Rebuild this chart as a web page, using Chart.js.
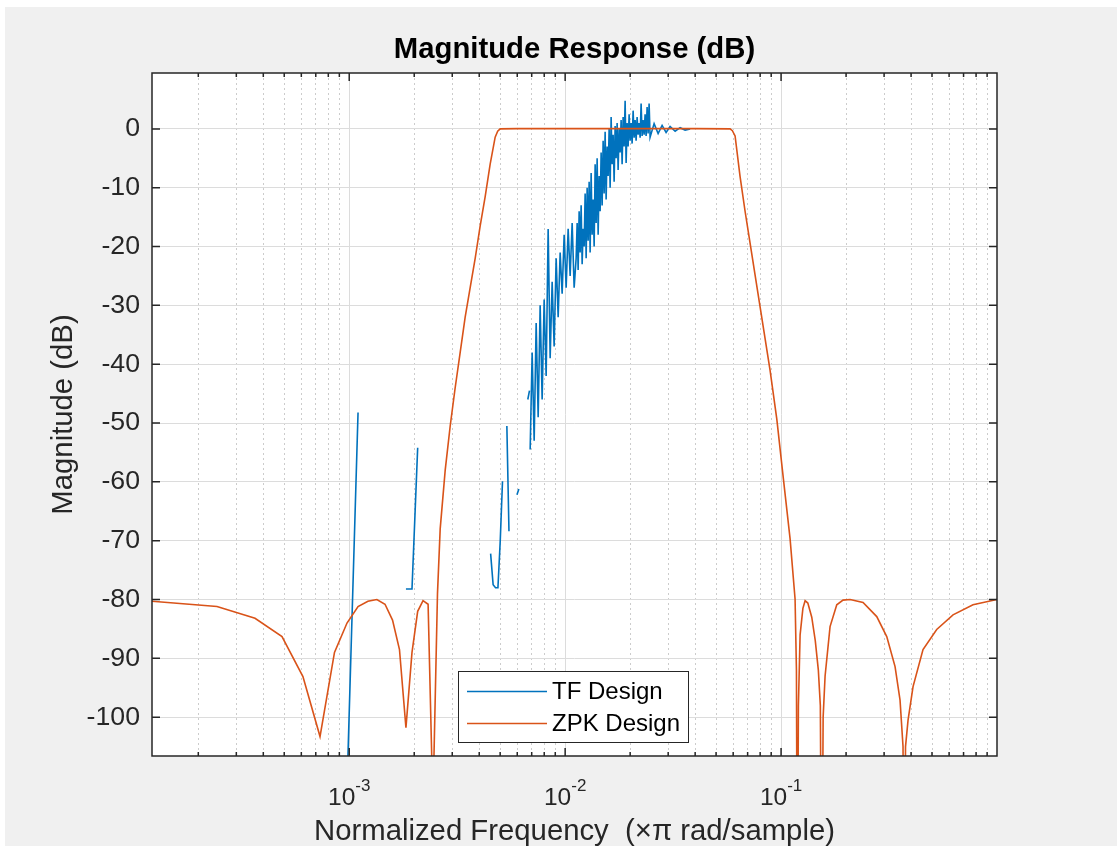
<!DOCTYPE html>
<html>
<head>
<meta charset="utf-8">
<title>Magnitude Response (dB)</title>
<script src="https://cdn.jsdelivr.net/npm/chart.js@4.4.1/dist/chart.umd.min.js"></script>
<style>
  html, body { margin: 0; padding: 0; background: #fff; }
  canvas { display: block; }
</style>
</head>
<body>
<canvas id="magChart" width="1117" height="846"></canvas>
<script>
// ---- data ----
const seriesNames = ['TF Design', 'ZPK Design'];
const seriesColors = ['#0072BD', '#D95319'];

// TF design (numerically broken at low freq -> gaps)
const tfFreq = [
  9.766e-4, 1.0986e-3, 1.16e-3,
  1.831e-3, 1.953e-3, 2.075e-3, 2.14e-3,
  4.517e-3, 4.639e-3, 4.761e-3, 4.883e-3, 5.005e-3, 5.127e-3, 5.25e-3,
  5.371e-3, 5.493e-3, 5.6e-3,
  5.981e-3, 6.104e-3, 6.3e-3,
  6.714e-3, 6.836e-3, 6.86e-3,
  6.886e-3, 7.034e-3, 7.186e-3, 7.341e-3, 7.499e-3, 7.660e-3, 7.825e-3, 7.994e-3,
  8.166e-3, 8.342e-3, 8.522e-3, 8.706e-3, 8.893e-3, 9.085e-3, 9.281e-3, 9.481e-3,
  9.685e-3, 9.894e-3, 1.0107e-2, 1.0325e-2, 1.0547e-2, 1.0775e-2, 1.1007e-2,
  1.1244e-2, 1.1365e-2, 1.1486e-2, 1.1609e-2, 1.1734e-2, 1.1860e-2, 1.1987e-2, 1.2115e-2,
  1.2245e-2, 1.2376e-2, 1.2509e-2, 1.2643e-2, 1.2779e-2, 1.2916e-2, 1.3054e-2, 1.3194e-2,
  1.3335e-2, 1.3478e-2, 1.3623e-2, 1.3769e-2, 1.3916e-2, 1.4065e-2, 1.4216e-2, 1.4368e-2,
  1.4522e-2, 1.4678e-2, 1.4835e-2, 1.4994e-2, 1.5155e-2, 1.5317e-2, 1.5481e-2, 1.5647e-2,
  1.5815e-2, 1.5984e-2, 1.6155e-2, 1.6328e-2, 1.6503e-2, 1.6680e-2, 1.6859e-2, 1.7040e-2,
  1.7222e-2, 1.7407e-2, 1.7593e-2, 1.7782e-2, 1.7972e-2, 1.8165e-2, 1.8359e-2, 1.8556e-2,
  1.8755e-2, 1.8956e-2, 1.9159e-2, 1.9364e-2, 1.9572e-2, 1.9782e-2, 1.9993e-2, 2.0208e-2,
  2.0424e-2, 2.0643e-2, 2.0864e-2, 2.1088e-2, 2.1313e-2, 2.1542e-2, 2.1773e-2, 2.2006e-2,
  2.2242e-2, 2.2480e-2, 2.2721e-2, 2.2964e-2, 2.3210e-2, 2.3459e-2, 2.3710e-2, 2.3964e-2,
  2.4221e-2, 2.4481e-2, 2.4743e-2,
  2.582e-2, 2.695e-2, 2.812e-2, 2.934e-2, 3.062e-2, 3.231e-2, 3.407e-2, 3.594e-2, 3.790e-2
];
const tfMag = [
  -112, -48.2, null,
  -78.2, -78.2, -54.2, null,
  -72.2, -77.5, -78, -78, -70, -59.9, null,
  -50.5, -68.4, null,
  -62.2, -61.2, null,
  -46, -44.5, null,
  -54.5, -38, -53, -33, -49, -30, -46, -29,
  -42, -17, -39, -26, -37, -22, -32, -21,
  -28, -18, -27, -17, -25, -16, -27,
  -22, -16, -24, -14, -21, -13, -23, -17,
  -20, -11, -22, -10, -19, -9, -21, -7.5,
  -18, -12, -20, -6, -16, -5, -18, -8,
  -14, -4, -13, -2, -11, -0.5, -12, -3,
  -8, 0, -10, 2, -6, -1, -9, 0.5,
  -5, 1, -7, 0, -4, 1.5, -6, 2,
  -3, 4.8, -5.8, 1, -3, 2.5, -2, 1,
  -2.5, 3.1, -1.5, 1.5, -2, 2, -1, 1,
  -1.5, 4.3, -1.2, 1.5, -1, 2.5, -1.2, 3.7,
  -0.8, 4.3, -1.4,
  0.9, -0.8, 0.6, -0.6, 0.4, -0.4, 0.2, -0.2, 0
];

// ZPK design
const zpkFreq = [
  1.2207e-4, 2.441e-4, 3.662e-4, 4.883e-4, 6.104e-4, 7.324e-4, 8.545e-4, 9.766e-4,
  1.0986e-3, 1.2207e-3, 1.3428e-3, 1.4648e-3, 1.5869e-3, 1.709e-3, 1.831e-3, 1.953e-3,
  2.075e-3, 2.197e-3, 2.319e-3, 2.441e-3, 2.563e-3, 2.638e-3, 2.783e-3, 2.935e-3,
  3.095e-3, 3.265e-3, 3.443e-3, 3.632e-3, 3.831e-3, 4.041e-3, 4.262e-3, 4.495e-3,
  4.741e-3, 4.87e-3, 5.001e-3, 6e-3, 1e-2, 2e-2, 4e-2,
  5.806e-2, 5.95e-2, 6.124e-2, 6.459e-2, 6.812e-2, 7.185e-2, 7.992e-2, 8.890e-2,
  9.552e-2, 0.1025, 0.1101, 0.1161, 0.1178, 0.1190, 0.1203, 0.1225,
  0.1262, 0.1292, 0.1330, 0.1387, 0.1440, 0.1488, 0.1520, 0.1543,
  0.1566, 0.1599, 0.1686, 0.1811, 0.1936, 0.2087, 0.2397, 0.2774,
  0.3086, 0.3372, 0.3556, 0.3671, 0.3710, 0.3770, 0.3873, 0.4085,
  0.4543, 0.5257, 0.6256, 0.7743, 1.0
];
const zpkMag = [
  -80.3, -81.2, -83.2, -86.3, -93.1, -103.3, -89, -84,
  -81.2, -80.3, -80, -80.8, -83.5, -88.5, -101.8, -89,
  -82, -80.2, -80.8, -115, -79, -68, -58, -50.5,
  -44, -38, -32, -27, -22, -16.5, -11.5, -6,
  -1.4, -0.4, 0, 0.05, 0.05, 0.05, 0.05,
  0, -0.3, -1.2, -8.1, -14, -19.4, -30.2, -41,
  -49.3, -59.5, -69.7, -79.9, -92, -140, -98, -86,
  -81.5, -80.2, -80.6, -83, -87, -92, -98, -140,
  -100, -93, -84.6, -80.9, -80.1, -80, -80.5, -82.9,
  -86.3, -91.4, -97.1, -105, -140, -105, -100.5, -94.8,
  -88.5, -85.1, -82.6, -80.9, -80
];

// axes
const xMin = 1.2207e-4, xMax = 1;
const yMin = -106.6, yMax = 9.5;
const yTicks = [-100, -90, -80, -70, -60, -50, -40, -30, -20, -10, 0];
const xMajor = [1e-3, 1e-2, 1e-1];
const xExponents = ['-3', '-2', '-1'];
const xDecades = [1e-4, 1e-3, 1e-2, 1e-1];
const xMantissas = [2, 3, 4, 5, 6, 7, 8, 9];

const FONT = "'Liberation Sans', Arial, Helvetica, sans-serif";
const AXIS_COLOR = '#262626';

const xTickValues = xMajor.slice();
xDecades.forEach(d => xMantissas.forEach(m => xTickValues.push(m * d)));
xTickValues.sort((a, b) => a - b);

function isMajorX(v) {
  return xMajor.some(m => Math.abs(v - m) / m < 1e-6);
}

const tfPoints = tfFreq.map((f, i) => ({ x: f, y: tfMag[i] }));
const zpkPoints = zpkFreq.map((f, i) => ({ x: f, y: zpkMag[i] }));

// frame, ticks, labels, legend drawn MATLAB-style
const matlabFrame = {
  id: 'matlabFrame',
  beforeDraw(chart) {
    const { ctx, chartArea: a } = chart;
    ctx.save();
    ctx.fillStyle = '#ffffff';
    ctx.fillRect(0, 0, chart.width, chart.height);
    ctx.fillStyle = '#f0f0f0';
    ctx.fillRect(5, 7, chart.width - 5, chart.height - 7);
    ctx.fillStyle = '#ffffff';
    ctx.fillRect(a.left, a.top, a.right - a.left, a.bottom - a.top);
    ctx.restore();
  },
  afterDraw(chart) {
    const { ctx, chartArea: a } = chart;
    const xs = chart.scales.x, ys = chart.scales.y;
    ctx.save();

    // box
    ctx.strokeStyle = AXIS_COLOR;
    ctx.lineWidth = 1.5;
    ctx.strokeRect(a.left, a.top, a.right - a.left, a.bottom - a.top);

    // inward ticks on all four sides
    ctx.beginPath();
    xTickValues.forEach(v => {
      const px = xs.getPixelForValue(v);
      const len = isMajorX(v) ? 8 : 4;
      ctx.moveTo(px, a.bottom); ctx.lineTo(px, a.bottom - len);
      ctx.moveTo(px, a.top); ctx.lineTo(px, a.top + len);
    });
    yTicks.forEach(v => {
      const py = ys.getPixelForValue(v);
      ctx.moveTo(a.left, py); ctx.lineTo(a.left + 8, py);
      ctx.moveTo(a.right, py); ctx.lineTo(a.right - 8, py);
    });
    ctx.stroke();

    // x tick labels 10^n
    ctx.fillStyle = AXIS_COLOR;
    ctx.textBaseline = 'alphabetic';
    ctx.textAlign = 'left';
    xMajor.forEach((v, i) => {
      const px = xs.getPixelForValue(v);
      ctx.font = '24.5px ' + FONT;
      const w1 = ctx.measureText('10').width;
      ctx.font = '17px ' + FONT;
      const w2 = ctx.measureText(xExponents[i]).width;
      const start = px - (w1 + w2) / 2;
      ctx.font = '24.5px ' + FONT;
      ctx.fillText('10', start, 805);
      ctx.font = '17px ' + FONT;
      ctx.fillText(xExponents[i], start + w1, 791);
    });

    // title and axis labels
    const cx = (a.left + a.right) / 2;
    ctx.textAlign = 'center';
    ctx.fillStyle = '#000000';
    ctx.font = 'bold 29.3px ' + FONT;
    ctx.fillText('Magnitude Response (dB)', cx, 58);
    ctx.fillStyle = AXIS_COLOR;
    ctx.font = '29.3px ' + FONT;
    ctx.fillText('Normalized Frequency  (\u00d7\u03c0 rad/sample)', cx, 840);
    ctx.save();
    ctx.translate(72, (a.top + a.bottom) / 2);
    ctx.rotate(-Math.PI / 2);
    ctx.fillText('Magnitude (dB)', 0, 0);
    ctx.restore();

    // legend box
    const lx = 458.5, ly = 671.5, lw = 230, lh = 71;
    ctx.fillStyle = '#ffffff';
    ctx.fillRect(lx, ly, lw, lh);
    ctx.strokeStyle = AXIS_COLOR;
    ctx.lineWidth = 1;
    ctx.strokeRect(lx, ly, lw, lh);
    ctx.font = '24px ' + FONT;
    ctx.textAlign = 'left';
    ctx.textBaseline = 'middle';
    seriesNames.forEach((name, i) => {
      const yy = ly + 20 + i * 32;
      ctx.strokeStyle = seriesColors[i];
      ctx.lineWidth = 1.6;
      ctx.beginPath();
      ctx.moveTo(467, yy); ctx.lineTo(547, yy);
      ctx.stroke();
      ctx.fillStyle = '#000000';
      ctx.fillText(name, 552, yy + 1);
    });

    ctx.restore();
  }
};

new Chart(document.getElementById('magChart'), {
  type: 'line',
  data: {
    datasets: [
      {
        label: seriesNames[0],
        data: tfPoints,
        borderColor: seriesColors[0],
        borderWidth: 1.6,
        pointRadius: 0,
        tension: 0,
        spanGaps: false,
        order: 1
      },
      {
        label: seriesNames[1],
        data: zpkPoints,
        borderColor: seriesColors[1],
        borderWidth: 1.6,
        pointRadius: 0,
        tension: 0,
        spanGaps: false,
        order: 0
      }
    ]
  },
  options: {
    responsive: false,
    devicePixelRatio: 1,
    animation: false,
    layout: { padding: { left: 0, top: 73, right: 120, bottom: 0 } },
    plugins: {
      legend: { display: false },
      title: { display: false },
      tooltip: { enabled: false }
    },
    scales: {
      x: {
        type: 'logarithmic',
        min: xMin,
        max: xMax,
        afterBuildTicks: s => { s.ticks = xTickValues.map(v => ({ value: v, major: isMajorX(v) })); },
        afterFit: s => { s.height = 90; },
        ticks: { display: false },
        grid: {
          drawTicks: false,
          lineWidth: 1,
          color: c => (c.tick && isMajorX(c.tick.value)) ? '#dcdcdc' : '#cccccc'
        },
        border: {
          display: false,
          dash: c => (c.tick && isMajorX(c.tick.value)) ? [] : [2, 3]
        }
      },
      y: {
        type: 'linear',
        min: yMin,
        max: yMax,
        afterBuildTicks: s => { s.ticks = yTicks.map(v => ({ value: v })); },
        afterFit: s => { s.width = 152; },
        ticks: {
          color: AXIS_COLOR,
          padding: 12,
          font: { family: FONT, size: 26.7 }
        },
        grid: { drawTicks: false, lineWidth: 1, color: '#dcdcdc' },
        border: { display: false }
      }
    }
  },
  plugins: [matlabFrame]
});
</script>
</body>
</html>
